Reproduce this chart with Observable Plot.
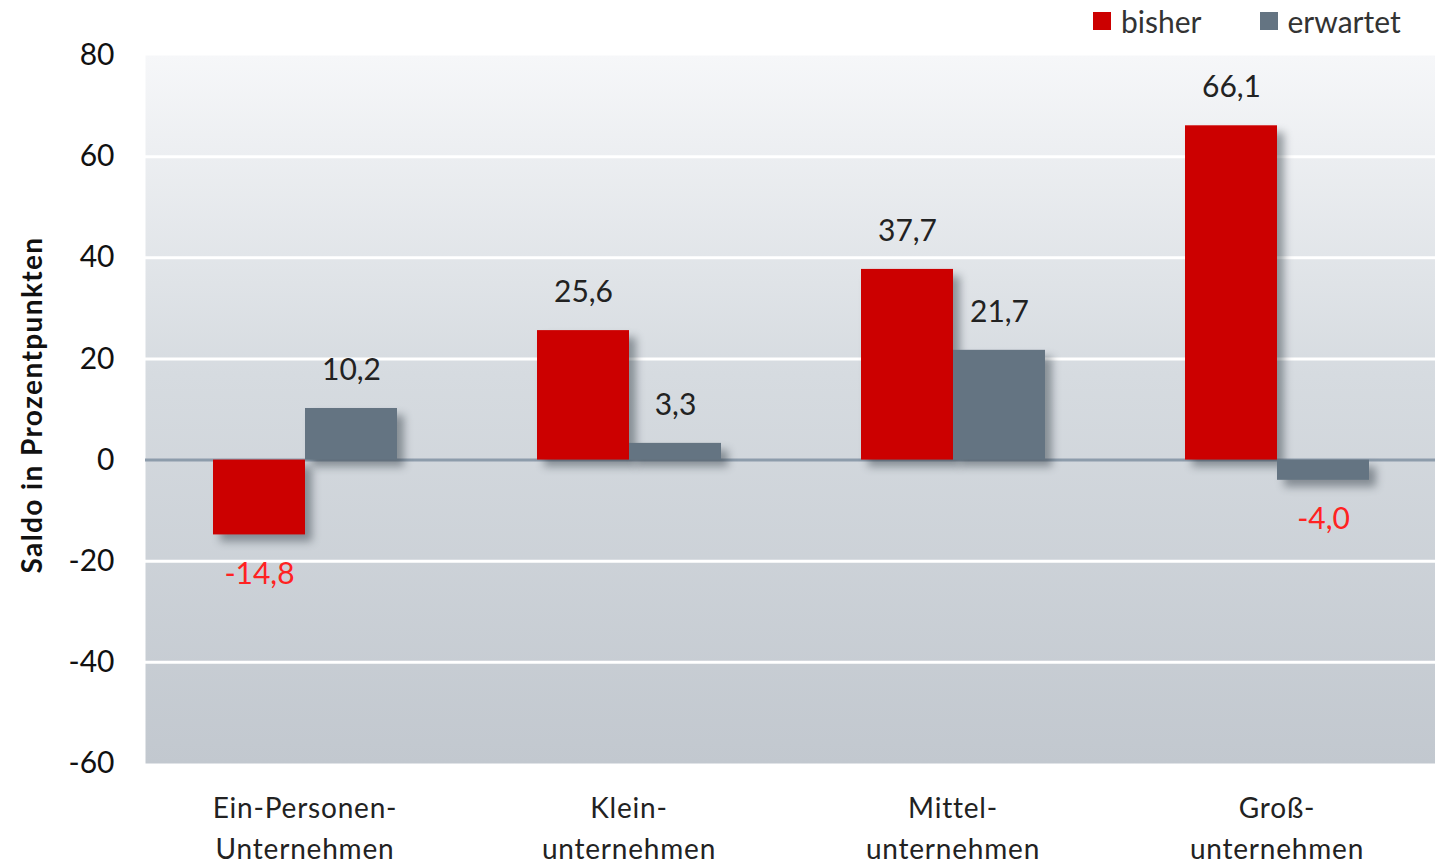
<!DOCTYPE html>
<html>
<head>
<meta charset="utf-8">
<script src="https://cdn.jsdelivr.net/npm/d3@7"></script>
<script src="https://cdn.jsdelivr.net/npm/@observablehq/plot@0.6"></script>
<style>
  html, body { margin: 0; padding: 0; background: #ffffff; }
  #wrap { position: relative; width: 1435px; height: 864px; font-family: Lato, "Open Sans", sans-serif; }
  #wrap svg.plotlayer { position: absolute; left: 0; top: 0; }
  #fg g[aria-label="bar"] rect { filter: drop-shadow(7px 7px 4px rgba(40,50,60,0.45)); }
  #fg g[aria-label="fx-axis tick label"] text { letter-spacing: 0.8px; }
  #legend { position: absolute; top: 3px; left: 1093px; display: flex; align-items: center; font-size: 30px; color: #333; }
  #legend .sw { width: 18px; height: 18px; display: inline-block; margin-right: 10px; }
  #legend .item { display: flex; align-items: center; margin-right: 58px; }
  #ytitle { position: absolute; left: 31px; top: 405px; transform: translate(-50%, -50%) rotate(-90deg); white-space: nowrap; font-weight: bold; font-size: 28px; letter-spacing: 1.4px; color: #111; }
</style>
</head>
<body>
<svg width="0" height="0" style="position:absolute">
  <defs>
    <linearGradient id="bgGrad" x1="0" y1="0" x2="0" y2="1">
      <stop offset="0" stop-color="#f6f7f9"/>
      <stop offset="0.45" stop-color="#d6dbe0"/>
      <stop offset="1" stop-color="#c2c8cf"/>
    </linearGradient>
  </defs>
</svg>
<div id="wrap">
  <div id="bg"></div>
  <div id="fg"></div>
  <div id="legend"></div>
  <div id="ytitle"></div>
</div>
<script>
const categories = ["Ein-Personen-\nUnternehmen", "Klein-\nunternehmen", "Mittel-\nunternehmen", "Groß-\nunternehmen"];
const seriesNames = ["bisher", "erwartet"];
const bisher = [-14.8, 25.6, 37.7, 66.1];
const erwartet = [10.2, 3.3, 21.7, -4.0];
const seriesColors = ["#cc0000", "#647482"];
const yTicks = [-60, -40, -20, 0, 20, 40, 60, 80];
const gridValues = [-40, -20, 20, 40, 60];
const yTitle = "Saldo in Prozentpunkten";

const data = [];
categories.forEach((c, i) => {
  data.push({category: c, series: seriesNames[0], value: bisher[i]});
  data.push({category: c, series: seriesNames[1], value: erwartet[i]});
});
const fmt = v => v.toFixed(1).replace(".", ",");

const W = 1435, H = 864;
const common = {width: W, height: H, marginTop: 55, marginBottom: 101, marginLeft: 145, marginRight: 0,
  style: {fontFamily: "Lato, 'Open Sans', sans-serif", background: "transparent", overflow: "visible"}};

const bgPlot = Plot.plot({
  ...common,
  x: {axis: null},
  y: {domain: [-60, 80], axis: null},
  marks: [
    Plot.frame({fill: "url(#bgGrad)", stroke: null}),
    Plot.ruleY(gridValues, {stroke: "#ffffff", strokeWidth: 3}),
    Plot.ruleY([0], {stroke: "#8d9cab", strokeWidth: 3})
  ]
});
bgPlot.classList.add("plotlayer");
document.getElementById("bg").appendChild(bgPlot);

const fgPlot = Plot.plot({
  ...common,
  fx: {domain: categories, paddingInner: 0.43, paddingOuter: 0.2, label: null},
  x: {domain: seriesNames, padding: 0, axis: null},
  y: {domain: [-60, 80], label: null},
  color: {domain: seriesNames, range: seriesColors},
  marks: [
    Plot.axisY({ticks: yTicks, tickSize: 0, tickPadding: 98, fontSize: 30, label: null, tickFormat: d => String(d), fill: "#111"}),
    Plot.axisFx({anchor: "bottom", tickSize: 0, tickPadding: 26, fontSize: 28, lineHeight: 1.45, label: null, fill: "#222"}),
    Plot.barY(data, {fx: "category", x: "series", y: "value", fill: "series"}),
    Plot.text(data.filter(d => d.value >= 0), {fx: "category", x: "series", y: "value", text: d => fmt(d.value), dy: -38, fontSize: 30, fill: "#222", lineAnchor: "middle"}),
    Plot.text(data.filter(d => d.value < 0), {fx: "category", x: "series", y: "value", text: d => fmt(d.value), dy: 39, fontSize: 30, fill: "#ff2222", lineAnchor: "middle"})
  ]
});
fgPlot.classList.add("plotlayer");
document.getElementById("fg").appendChild(fgPlot);

const legend = document.getElementById("legend");
seriesNames.forEach((s, i) => {
  const item = document.createElement("div");
  item.className = "item";
  const sw = document.createElement("span");
  sw.className = "sw";
  sw.style.background = seriesColors[i];
  const t = document.createElement("span");
  t.textContent = s;
  item.appendChild(sw);
  item.appendChild(t);
  legend.appendChild(item);
});
document.getElementById("ytitle").textContent = yTitle;
</script>
</body>
</html>
